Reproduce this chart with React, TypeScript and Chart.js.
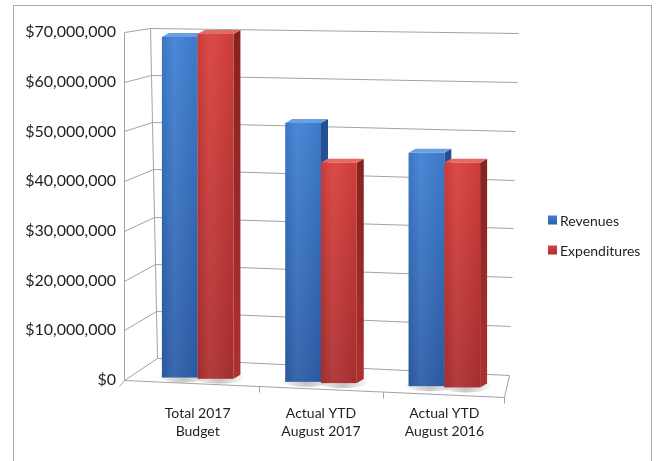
import React, { useEffect, useRef } from "react";
import { Chart, registerables } from "chart.js";

Chart.register(...registerables);

const categories: string[][] = [
  ["Total 2017", "Budget"],
  ["Actual YTD", "August 2017"],
  ["Actual YTD", "August 2016"],
];
const seriesNames = ["Revenues", "Expenditures"];
const revenues = [69000000, 51700000, 45700000];
const expenditures = [69600000, 43700000, 43700000];
const yMin = 0;
const yMax = 70000000;
const yStep = 10000000;

const FONT = "Lato, 'Open Sans', sans-serif";
const TEXT = "#1f1f1f";
const GRID = "#a3a3a3";

const palettes = [
  { topFace: "#6a9fe2", hi: "#4080d3", lo: "#2d5ea8", side: "#244f90", legend: "#3a75c6" },
  { topFace: "#e46a66", hi: "#d8403d", lo: "#ad3030", side: "#872221", legend: "#cc3a37" },
];

const DX = 7;
const DY = 4;

function line(ctx: CanvasRenderingContext2D, x1: number, y1: number, x2: number, y2: number) {
  ctx.beginPath();
  ctx.moveTo(Math.round(x1) + 0.5, Math.round(y1) + 0.5);
  ctx.lineTo(Math.round(x2) + 0.5, Math.round(y2) + 0.5);
  ctx.stroke();
}

const frame3d = {
  id: "frame3d",
  beforeDatasetsDraw(chart: any) {
    const { ctx, chartArea } = chart;
    const { left: L, right: R, bottom: B } = chartArea;
    const ys = chart.scales.y;
    const geo = (v: number) => {
      const t = (v - yMin) / (yMax - yMin);
      const p = ys.getPixelForValue(v);
      return {
        fx: L - 12,
        fy: p,
        bx: L + 14 + 7 * (1 - t),
        by: p - 4 - 18 * (1 - t),
        rx: R + 12 - 9 * (1 - t),
        ry: p + 1 - 6 * (1 - t),
      };
    };
    ctx.save();
    ctx.strokeStyle = GRID;
    ctx.lineWidth = 1;
    const gTop = geo(yMax);
    const gBot = geo(yMin);
    line(ctx, gTop.fx, gTop.fy, gBot.fx, gBot.fy);
    line(ctx, gTop.bx, gTop.by, gBot.bx, gBot.by);
    ys.ticks.forEach((tk: any) => {
      const g = geo(tk.value);
      line(ctx, g.fx, g.fy, g.bx, g.by);
      line(ctx, g.bx, g.by, g.rx, g.ry);
    });
    const frX = R - 2;
    const frY = B + 17;
    line(ctx, gBot.fx, gBot.fy, frX, frY);
    line(ctx, frX, frY, gBot.rx, gBot.ry);
    const n = categories.length;
    const slope = (frY - gBot.fy) / (frX - gBot.fx);
    for (let i = 0; i <= n; i++) {
      const x = i === 0 ? gBot.fx : i === n ? frX : L + ((R - L) * i) / n;
      const y = gBot.fy + (x - gBot.fx) * slope;
      line(ctx, x, y, x - (i === 0 ? 5 : 0), y + 6);
    }
    ctx.restore();
  },
  afterDatasetsDraw(chart: any) {
    const { ctx, chartArea } = chart;
    const L = chartArea.left;
    const metas = [chart.getDatasetMeta(0), chart.getDatasetMeta(1)];
    ctx.save();
    for (let i = 0; i < categories.length; i++) {
      for (let d = 0; d < 2; d++) {
        const el = metas[d].data[i];
        if (!el) continue;
        const { x, y, base, width } = el.getProps(["x", "y", "base", "width"], true);
        const pal = palettes[d];
        const x0 = x - width / 2;
        const x1 = x + width / 2;
        const top = y;
        const bot = base - 4 + (x - L) * 0.035;
        const sg = ctx.createRadialGradient(x + DX / 2, bot, 2, x + DX / 2, bot, width * 0.75);
        sg.addColorStop(0, "rgba(0,0,0,0.22)");
        sg.addColorStop(1, "rgba(0,0,0,0)");
        ctx.fillStyle = sg;
        ctx.beginPath();
        ctx.ellipse(x + DX / 2, bot - 1, width * 0.7, 6, 0, 0, Math.PI * 2);
        ctx.fill();
        const sideG = ctx.createLinearGradient(0, top, 0, bot);
        sideG.addColorStop(0, pal.side);
        sideG.addColorStop(1, pal.lo);
        ctx.fillStyle = sideG;
        ctx.beginPath();
        ctx.moveTo(x1, top);
        ctx.lineTo(x1 + DX, top - DY);
        ctx.lineTo(x1 + DX, bot - DY);
        ctx.lineTo(x1, bot);
        ctx.closePath();
        ctx.fill();
        ctx.fillStyle = pal.topFace;
        ctx.beginPath();
        ctx.moveTo(x0, top);
        ctx.lineTo(x0 + DX, top - DY);
        ctx.lineTo(x1 + DX, top - DY);
        ctx.lineTo(x1, top);
        ctx.closePath();
        ctx.fill();
        const fg = ctx.createLinearGradient(0, top, 0, bot);
        fg.addColorStop(0, pal.hi);
        fg.addColorStop(1, pal.lo);
        ctx.fillStyle = fg;
        ctx.fillRect(x0, top, x1 - x0, bot - top);
        const hg = ctx.createLinearGradient(x0, 0, x1, 0);
        hg.addColorStop(0, "rgba(0,0,0,0.08)");
        hg.addColorStop(0.35, "rgba(255,255,255,0.06)");
        hg.addColorStop(1, "rgba(0,0,0,0.06)");
        ctx.fillStyle = hg;
        ctx.fillRect(x0, top, x1 - x0, bot - top);
      }
    }
    ctx.restore();
  },
  afterDraw(chart: any) {
    const { ctx, chartArea } = chart;
    const lx = chartArea.right + 42;
    const ly0 = 220;
    const gap = 30;
    ctx.save();
    ctx.font = `14px ${FONT}`;
    ctx.textBaseline = "middle";
    ctx.textAlign = "left";
    seriesNames.forEach((name, i) => {
      const cy = ly0 + i * gap;
      const g = ctx.createLinearGradient(0, cy - 4.5, 0, cy + 4.5);
      g.addColorStop(0, palettes[i].hi);
      g.addColorStop(1, palettes[i].lo);
      ctx.fillStyle = g;
      ctx.fillRect(lx, cy - 4.5, 9, 9);
      ctx.fillStyle = TEXT;
      ctx.fillText(name, lx + 12, cy + 1);
    });
    ctx.restore();
  },
};

const fmt = (v: number) => "$" + Math.round(v).toLocaleString("en-US");

export default function App() {
  const ref = useRef<HTMLCanvasElement | null>(null);
  useEffect(() => {
    if (!ref.current) return;
    const chart = new Chart(ref.current, {
      type: "bar",
      data: {
        labels: categories,
        datasets: [
          { label: seriesNames[0], data: revenues, backgroundColor: "rgba(0,0,0,0)" },
          { label: seriesNames[1], data: expenditures, backgroundColor: "rgba(0,0,0,0)" },
        ],
      },
      options: {
        responsive: false,
        animation: false,
        layout: { padding: { top: 32, right: 157, bottom: 0, left: 0 } },
        datasets: { bar: { categoryPercentage: 0.58, barPercentage: 1.0 } },
        plugins: {
          tooltip: { enabled: false },
          legend: { display: false },
        },
        scales: {
          x: {
            grid: { display: false, drawTicks: false },
            border: { display: false },
            ticks: {
              color: TEXT,
              padding: 24,
              maxRotation: 0,
              font: { family: FONT, size: 14, lineHeight: 18 / 14 },
            },
            afterFit: (s: any) => {
              s.height = 81;
            },
          },
          y: {
            min: yMin,
            max: yMax,
            grid: { display: false, drawTicks: false },
            border: { display: false },
            ticks: {
              stepSize: yStep,
              padding: 20,
              color: TEXT,
              font: { family: FONT, size: 16 },
              callback: (v: any) => fmt(Number(v)),
            },
            afterFit: (s: any) => {
              s.width = 136;
            },
          },
        },
      },
      plugins: [frame3d],
    });
    return () => chart.destroy();
  }, []);
  return (
    <div style={{ position: "fixed", left: 0, top: 0, width: 663, height: 461, overflow: "hidden", background: "#fff" }}>
      <div
        style={{
          position: "absolute",
          left: 13,
          top: 5,
          width: 639,
          height: 480,
          border: "1px solid #a9a9a9",
          boxSizing: "border-box",
        }}
      />
      <canvas ref={ref} width={663} height={461} style={{ position: "absolute", left: 0, top: 0 }} />
    </div>
  );
}
